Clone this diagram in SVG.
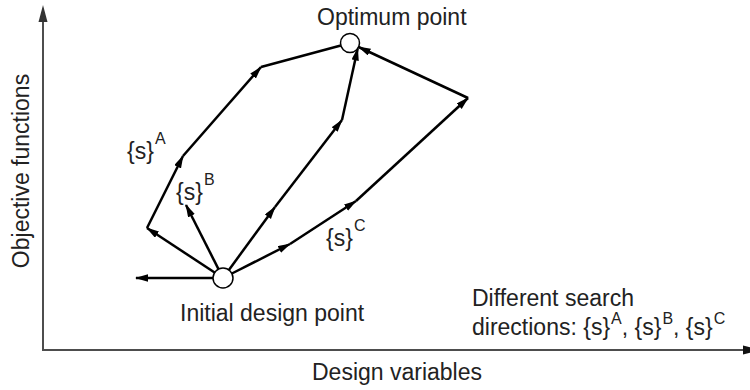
<svg xmlns="http://www.w3.org/2000/svg" width="750" height="390" viewBox="0 0 750 390">
  <style>
    text { font-family: "Liberation Sans", Arial, sans-serif; font-size: 23px; fill: #222; }
    .sup { font-size: 16px; }
    .axis { stroke: #4d4d4d; stroke-width: 2; fill: none; }
    .conn { stroke: #000; stroke-width: 2.5; fill: none; }
    .pt { fill: #fff; stroke: #000; stroke-width: 1.5; }
  </style>
  <defs>
    <marker id="ah" markerUnits="userSpaceOnUse" markerWidth="13" markerHeight="8" refX="12" refY="3.75" orient="auto">
      <path d="M0,0 L13,3.75 L0,7.5 z" fill="#000"/>
    </marker>
  </defs>
  <rect width="750" height="390" fill="#fff"/>

  <g id="axes">
    <line class="axis" x1="43" y1="350" x2="43" y2="20"/>
    <path d="M43,5 L47.5,22 L38.5,22 z" fill="#333"/>
    <line class="axis" x1="42" y1="350" x2="744" y2="350"/>
    <path d="M760,350 L743,345.5 L743,354.5 z" fill="#111"/>
    <text transform="translate(29,171) rotate(-90)" text-anchor="middle">Objective functions</text>
    <text x="397" y="380" text-anchor="middle">Design variables</text>
  </g>

  <g id="connectors">
    <line class="conn" x1="214.6" y1="272.5" x2="147" y2="228" marker-end="url(#ah)"/>
    <line class="conn" x1="147" y1="228" x2="183" y2="156" marker-end="url(#ah)"/>
    <line class="conn" x1="183" y1="156" x2="261" y2="67" marker-end="url(#ah)"/>
    <line class="conn" x1="261" y1="67" x2="340.8" y2="45.5"/>
    <line class="conn" x1="218.5" y1="269.1" x2="186" y2="205" marker-end="url(#ah)"/>
    <line class="conn" x1="213" y1="278" x2="136" y2="278" marker-end="url(#ah)"/>
    <line class="conn" x1="228.9" y1="269.9" x2="275" y2="207" marker-end="url(#ah)"/>
    <line class="conn" x1="275" y1="207" x2="342" y2="120" marker-end="url(#ah)"/>
    <line class="conn" x1="342" y1="120" x2="357.7" y2="48.5" marker-end="url(#ah)"/>
    <line class="conn" x1="231.9" y1="273.5" x2="290" y2="244" marker-end="url(#ah)"/>
    <line class="conn" x1="290" y1="244" x2="356" y2="201" marker-end="url(#ah)"/>
    <line class="conn" x1="356" y1="201" x2="468" y2="98" marker-end="url(#ah)"/>
    <line class="conn" x1="468" y1="98" x2="358.6" y2="47" marker-end="url(#ah)"/>
  </g>

  <g id="initial-point">
    <circle class="pt" cx="223" cy="278" r="10"/>
    <text x="180" y="321">Initial design point</text>
  </g>

  <g id="optimum-point">
    <circle class="pt" cx="350" cy="43" r="9.5"/>
    <text x="317" y="25">Optimum point</text>
  </g>

  <g id="label-sA">
    <text x="127" y="159">{s}<tspan class="sup" dx="1" dy="-15">A</tspan></text>
  </g>
  <g id="label-sB">
    <text x="176" y="200">{s}<tspan class="sup" dx="1" dy="-15">B</tspan></text>
  </g>
  <g id="label-sC">
    <text x="326" y="246">{s}<tspan class="sup" dx="1" dy="-15">C</tspan></text>
  </g>

  <g id="legend">
    <text x="472" y="306">Different search</text>
    <text x="472" y="335">directions: {s}<tspan class="sup" dx="1" dy="-11">A</tspan><tspan dy="11">, {s}</tspan><tspan class="sup" dx="1" dy="-11">B</tspan><tspan dy="11">, {s}</tspan><tspan class="sup" dx="1" dy="-11">C</tspan></text>
  </g>
</svg>
